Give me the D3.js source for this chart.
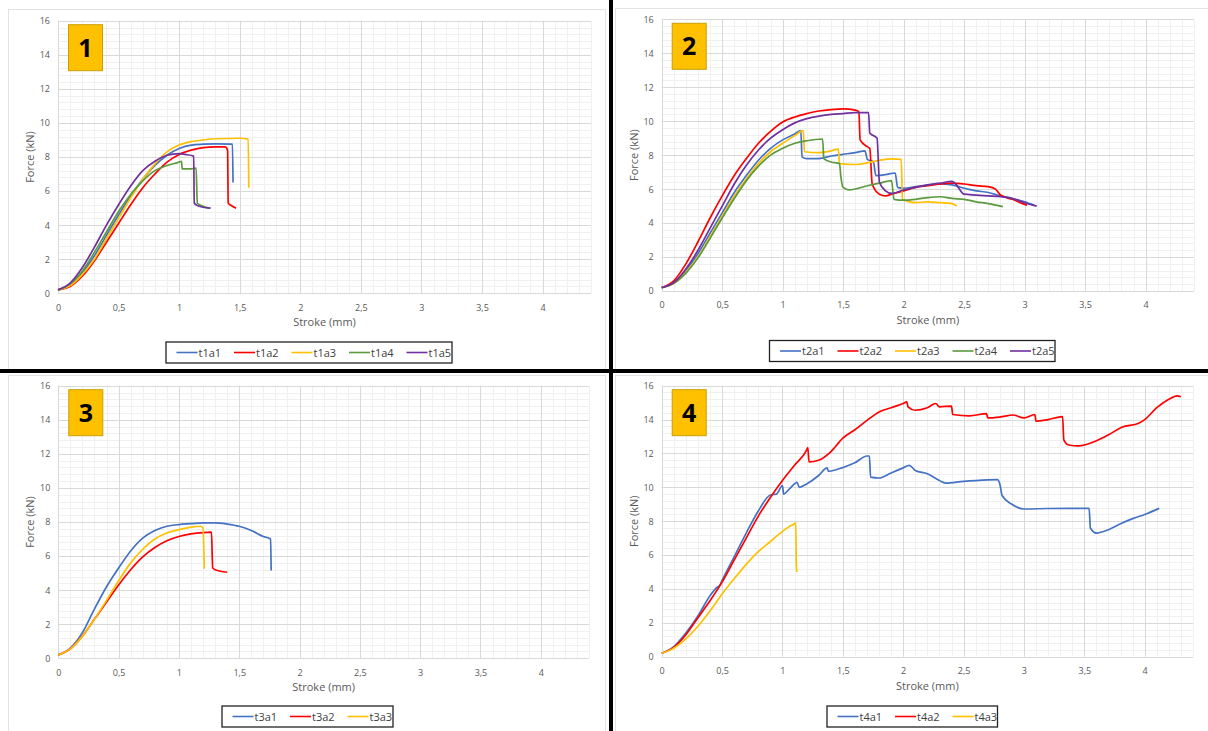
<!DOCTYPE html>
<html>
<head>
<meta charset="utf-8">
<script src="https://cdn.jsdelivr.net/npm/d3@7"></script>
<style>
  body { margin: 0; background: #fff; }
  text { font-family: "Open Sans", "Liberation Sans", sans-serif; }
</style>
</head>
<body>
<svg id="chart" width="1208" height="731"></svg>
<script>
// tick labels shared by the four panels
var xTicks = [0, 0.5, 1, 1.5, 2, 2.5, 3, 3.5, 4];
var yTicks = [0, 2, 4, 6, 8, 10, 12, 14, 16];

// panel 1
var t1a1 = [[0,0.2],[0.1,0.5],[0.2,1.2],[0.3,2.2],[0.4,3.4],[0.5,4.6],[0.6,5.7],[0.7,6.7],[0.8,7.5],[0.9,8.1],[1.0,8.5],[1.1,8.7],[1.2,8.75],[1.3,8.77],[1.44,8.75],[1.445,6.5]];
var t1a2 = [[0,0.2],[0.1,0.4],[0.2,1.0],[0.3,1.9],[0.4,3.0],[0.5,4.1],[0.6,5.2],[0.7,6.2],[0.8,7.0],[0.9,7.7],[1.0,8.15],[1.1,8.4],[1.2,8.55],[1.3,8.6],[1.38,8.6],[1.40,8.4],[1.405,5.3],[1.43,5.15],[1.47,5.0]];
var t1a3 = [[0,0.2],[0.1,0.45],[0.2,1.1],[0.3,2.0],[0.4,3.2],[0.5,4.4],[0.6,5.6],[0.7,6.7],[0.8,7.6],[0.9,8.3],[1.0,8.7],[1.1,8.9],[1.2,9.0],[1.3,9.07],[1.5,9.1],[1.57,9.05],[1.575,6.2]];
var t1a4 = [[0,0.2],[0.1,0.55],[0.2,1.3],[0.3,2.4],[0.4,3.6],[0.5,4.8],[0.6,5.8],[0.7,6.6],[0.8,7.2],[0.9,7.5],[1.0,7.7],[1.02,7.75],[1.025,7.3],[1.1,7.3],[1.14,7.35],[1.15,5.3],[1.2,5.1],[1.25,5.0]];
var t1a5 = [[0,0.2],[0.1,0.6],[0.2,1.5],[0.3,2.7],[0.4,4.0],[0.5,5.2],[0.6,6.3],[0.7,7.2],[0.8,7.75],[0.9,8.1],[1.0,8.2],[1.05,8.15],[1.12,8.05],[1.125,5.3],[1.15,5.15],[1.2,5.05],[1.26,5.0]];

// panel 2
var t2a1 = [[0,0.2],[0.1,0.5],[0.2,1.2],[0.3,2.2],[0.4,3.4],[0.5,4.6],[0.6,5.8],[0.7,6.8],[0.8,7.7],[0.9,8.4],[1.0,8.9],[1.1,9.25],[1.15,9.45],[1.16,7.9],[1.2,7.8],[1.3,7.8],[1.4,7.95],[1.5,8.05],[1.6,8.15],[1.68,8.25],[1.7,7.75],[1.75,7.6],[1.77,6.8],[1.85,6.85],[1.93,6.95],[1.95,6.1],[2.0,6.05],[2.1,6.15],[2.2,6.25],[2.3,6.3],[2.4,6.25],[2.5,6.05],[2.6,5.9],[2.7,5.8],[2.8,5.6],[2.9,5.45],[3.0,5.25],[3.08,5.05]];
var t2a2 = [[0,0.2],[0.1,0.6],[0.2,1.6],[0.3,2.9],[0.4,4.3],[0.5,5.6],[0.6,6.8],[0.7,7.8],[0.8,8.7],[0.9,9.4],[1.0,9.95],[1.1,10.25],[1.2,10.45],[1.3,10.6],[1.4,10.68],[1.5,10.72],[1.6,10.65],[1.63,10.55],[1.64,8.9],[1.7,8.5],[1.72,8.4],[1.74,6.3],[1.8,5.7],[1.85,5.6],[1.9,5.7],[2.0,5.9],[2.1,6.1],[2.2,6.2],[2.3,6.3],[2.4,6.35],[2.5,6.3],[2.6,6.2],[2.7,6.15],[2.76,6.0],[2.8,5.65],[2.9,5.4],[3.0,5.1],[3.02,5.05]];
var t2a3 = [[0,0.2],[0.1,0.45],[0.2,1.1],[0.3,2.0],[0.4,3.2],[0.5,4.4],[0.6,5.6],[0.7,6.6],[0.8,7.5],[0.9,8.2],[1.0,8.7],[1.1,9.15],[1.17,9.45],[1.18,8.2],[1.3,8.15],[1.4,8.25],[1.46,8.35],[1.47,7.5],[1.6,7.45],[1.7,7.55],[1.8,7.7],[1.9,7.78],[1.98,7.75],[1.99,5.4],[2.05,5.25],[2.1,5.2],[2.2,5.25],[2.3,5.2],[2.4,5.15],[2.44,5.0]];
var t2a4 = [[0,0.2],[0.1,0.45],[0.2,1.05],[0.3,1.95],[0.4,3.1],[0.5,4.3],[0.6,5.45],[0.7,6.5],[0.8,7.35],[0.9,8.0],[1.0,8.4],[1.1,8.7],[1.2,8.85],[1.33,8.95],[1.34,7.8],[1.4,7.6],[1.47,7.5],[1.48,6.8],[1.5,6.1],[1.55,5.95],[1.7,6.2],[1.8,6.35],[1.9,6.5],[1.92,5.4],[2.0,5.35],[2.1,5.4],[2.2,5.5],[2.3,5.55],[2.4,5.45],[2.5,5.4],[2.6,5.25],[2.7,5.15],[2.82,4.97]];
var t2a5 = [[0,0.2],[0.1,0.5],[0.2,1.3],[0.3,2.4],[0.4,3.7],[0.5,5.0],[0.6,6.3],[0.7,7.4],[0.8,8.3],[0.9,9.0],[1.0,9.5],[1.1,9.9],[1.2,10.15],[1.3,10.3],[1.4,10.4],[1.5,10.45],[1.6,10.5],[1.71,10.5],[1.72,9.3],[1.78,9.0],[1.8,6.4],[1.85,5.9],[1.9,5.75],[2.0,5.95],[2.1,6.1],[2.2,6.25],[2.3,6.35],[2.4,6.45],[2.43,6.3],[2.5,5.7],[2.6,5.65],[2.7,5.6],[2.8,5.55],[2.9,5.45],[3.0,5.2],[3.1,5.0]];

// panel 3
var t3a1 = [[0,0.2],[0.1,0.6],[0.2,1.5],[0.3,2.9],[0.4,4.2],[0.5,5.3],[0.6,6.3],[0.7,7.05],[0.8,7.5],[0.9,7.75],[1.0,7.85],[1.1,7.9],[1.2,7.95],[1.3,7.95],[1.4,7.88],[1.5,7.75],[1.6,7.5],[1.7,7.15],[1.76,7.0],[1.765,5.15]];
var t3a2 = [[0,0.2],[0.1,0.55],[0.2,1.3],[0.3,2.3],[0.4,3.3],[0.5,4.3],[0.6,5.2],[0.7,5.95],[0.8,6.5],[0.9,6.9],[1.0,7.15],[1.1,7.3],[1.2,7.38],[1.27,7.4],[1.28,5.3],[1.32,5.15],[1.4,5.05]];
var t3a3 = [[0,0.2],[0.1,0.55],[0.2,1.3],[0.3,2.3],[0.4,3.4],[0.5,4.55],[0.6,5.6],[0.7,6.4],[0.8,7.0],[0.9,7.35],[1.0,7.55],[1.1,7.7],[1.18,7.75],[1.2,7.65],[1.21,5.25]];

// panel 4
var t4a1 = [[0,0.2],[0.1,0.6],[0.2,1.4],[0.3,2.4],[0.4,3.6],[0.46,4.1],[0.48,4.2],[0.5,4.5],[0.6,5.9],[0.7,7.3],[0.8,8.6],[0.9,9.55],[0.95,9.6],[1.0,10.1],[1.01,9.6],[1.05,9.85],[1.1,10.2],[1.12,10.3],[1.14,10.0],[1.2,10.2],[1.3,10.7],[1.37,11.15],[1.38,10.95],[1.45,11.05],[1.55,11.3],[1.6,11.45],[1.7,11.85],[1.72,11.85],[1.73,10.6],[1.8,10.55],[1.9,10.85],[2.0,11.15],[2.05,11.3],[2.1,11.0],[2.2,10.8],[2.3,10.4],[2.35,10.25],[2.5,10.35],[2.6,10.4],[2.78,10.45],[2.8,10.2],[2.82,9.5],[2.9,9.0],[3.0,8.72],[3.2,8.75],[3.4,8.76],[3.54,8.76],[3.55,7.6],[3.6,7.3],[3.7,7.5],[3.8,7.85],[3.9,8.15],[4.0,8.4],[4.12,8.76]];
var t4a2 = [[0,0.2],[0.1,0.55],[0.2,1.3],[0.3,2.3],[0.4,3.3],[0.5,4.4],[0.6,5.7],[0.7,7.0],[0.8,8.3],[0.9,9.4],[1.0,10.4],[1.1,11.3],[1.2,12.2],[1.21,12.35],[1.22,11.5],[1.3,11.6],[1.4,12.1],[1.5,12.9],[1.6,13.4],[1.7,13.95],[1.8,14.45],[1.9,14.7],[2.0,14.95],[2.03,15.05],[2.04,14.75],[2.1,14.55],[2.2,14.7],[2.27,14.95],[2.3,14.75],[2.4,14.8],[2.41,14.3],[2.55,14.22],[2.69,14.35],[2.7,14.1],[2.8,14.15],[2.91,14.27],[3.0,14.1],[3.09,14.3],[3.1,13.9],[3.2,14.0],[3.32,14.17],[3.33,12.8],[3.37,12.5],[3.45,12.45],[3.6,12.75],[3.7,13.1],[3.81,13.55],[3.95,13.78],[4.0,14.0],[4.1,14.7],[4.2,15.2],[4.27,15.4],[4.3,15.35]];
var t4a3 = [[0,0.2],[0.1,0.5],[0.2,1.05],[0.3,1.8],[0.4,2.7],[0.5,3.7],[0.6,4.6],[0.7,5.45],[0.8,6.2],[0.9,6.8],[1.0,7.4],[1.05,7.65],[1.1,7.85],[1.11,7.9],[1.115,5.4],[1.12,5.0]];

var colors = {a1: "#4472C4", a2: "#FF0000", a3: "#FFC000", a4: "#5B9A3D", a5: "#7030A0"};

var panels = [
    {num: "1", left: 58, right: 591, top: 20.7, bottom: 293.3, legX: 166, legY: 342, legW: 286,
     box: [8, 9, 597, 362], series: {t1a1: t1a1, t1a2: t1a2, t1a3: t1a3, t1a4: t1a4, t1a5: t1a5}},
    {num: "2", left: 661.7, right: 1194, top: 19.3, bottom: 291, legX: 769.5, legY: 340.5, legW: 285.5,
     box: [615, 8, 600, 362], series: {t2a1: t2a1, t2a2: t2a2, t2a3: t2a3, t2a4: t2a4, t2a5: t2a5}},
    {num: "3", left: 58.3, right: 589, top: 385.7, bottom: 658.3, legX: 222, legY: 706, legW: 171,
     box: [8, 375, 597, 370], series: {t3a1: t3a1, t3a2: t3a2, t3a3: t3a3}},
    {num: "4", left: 661.7, right: 1193, top: 385.7, bottom: 656.7, legX: 827, legY: 706, legW: 170.5,
     box: [615, 375, 600, 370], series: {t4a1: t4a1, t4a2: t4a2, t4a3: t4a3}}
];

var svg = d3.select("#chart");
svg.append("rect").attr("width", 1208).attr("height", 731).attr("fill", "#fff");

function fmt(d) { return String(d).replace(".", ","); }

function drawPanel(p) {
    var g = svg.append("g");

    // chart area border
    g.append("rect")
        .attr("x", p.box[0] + 0.5).attr("y", p.box[1] + 0.5)
        .attr("width", p.box[2]).attr("height", p.box[3])
        .attr("fill", "none").attr("stroke", "#e3e3e3");

    var x = d3.scaleLinear().domain([0, 4.4]).range([p.left, p.right]);
    var y = d3.scaleLinear().domain([0, 16]).range([p.bottom, p.top]);

    // minor grid
    var minorX = d3.range(0, 4.41, 0.1);
    var minorY = d3.range(0, 16.01, 0.4);
    g.append("g").selectAll("line").data(minorX).enter().append("line")
        .attr("x1", function(d) { return Math.round(x(d)) + 0.5; })
        .attr("x2", function(d) { return Math.round(x(d)) + 0.5; })
        .attr("y1", p.top).attr("y2", p.bottom)
        .attr("stroke", "#f0f0f0");
    g.append("g").selectAll("line").data(minorY).enter().append("line")
        .attr("y1", function(d) { return Math.round(y(d)) + 0.5; })
        .attr("y2", function(d) { return Math.round(y(d)) + 0.5; })
        .attr("x1", p.left).attr("x2", p.right)
        .attr("stroke", "#f0f0f0");

    // major grid
    g.append("g").selectAll("line").data(xTicks).enter().append("line")
        .attr("x1", function(d) { return Math.round(x(d)) + 0.5; })
        .attr("x2", function(d) { return Math.round(x(d)) + 0.5; })
        .attr("y1", p.top).attr("y2", p.bottom)
        .attr("stroke", "#d9d9d9");
    g.append("g").selectAll("line").data(yTicks).enter().append("line")
        .attr("y1", function(d) { return Math.round(y(d)) + 0.5; })
        .attr("y2", function(d) { return Math.round(y(d)) + 0.5; })
        .attr("x1", p.left).attr("x2", p.right)
        .attr("stroke", "#d9d9d9");

    // axes (labels only, Excel style)
    var xAxis = g.append("g").attr("transform", "translate(0," + p.bottom + ")")
        .call(d3.axisBottom(x).tickValues(xTicks).tickFormat(fmt).tickSize(0).tickPadding(11));
    var yAxis = g.append("g").attr("transform", "translate(" + p.left + ",0)")
        .call(d3.axisLeft(y).tickValues(yTicks).tickSize(0).tickPadding(8));
    [xAxis, yAxis].forEach(function(a) {
        a.select(".domain").remove();
        a.selectAll("text").attr("fill", "#595959").attr("font-size", 9)
            .attr("font-family", "'Open Sans', sans-serif");
    });

    g.append("text")
        .attr("x", (p.left + p.right) / 2).attr("y", p.bottom + 33)
        .attr("text-anchor", "middle").attr("font-size", 11).attr("fill", "#595959")
        .text("Stroke (mm)");
    g.append("text")
        .attr("transform", "translate(" + (p.left - 24) + "," + ((p.top + p.bottom) / 2) + ") rotate(-90)")
        .attr("text-anchor", "middle").attr("font-size", 11).attr("fill", "#595959")
        .text("Force (kN)");

    // curves
    var line = d3.line()
        .curve(d3.curveMonotoneX)
        .x(function(d) { return x(d[0]); })
        .y(function(d) { return y(d[1]); });
    var names = Object.keys(p.series);
    g.append("g").selectAll("path").data(names).enter().append("path")
        .attr("d", function(n) { return line(p.series[n]); })
        .attr("fill", "none")
        .attr("stroke", function(n) { return colors[n.slice(2)]; })
        .attr("stroke-width", 1.7)
        .attr("stroke-linejoin", "round");

    // number badge
    g.append("rect")
        .attr("x", p.left + 10.5).attr("y", p.top + 4)
        .attr("width", 34).attr("height", 46)
        .attr("fill", "#FFC000").attr("stroke", "#C8A000").attr("stroke-width", 1);
    g.append("text")
        .attr("x", p.left + 27.5).attr("y", p.top + 36)
        .attr("text-anchor", "middle").attr("font-size", 25).attr("font-weight", "bold")
        .attr("fill", "#000").text(p.num);

    // legend
    var leg = g.append("g").attr("transform", "translate(" + p.legX + "," + p.legY + ")");
    leg.append("rect").attr("width", p.legW).attr("height", 21)
        .attr("fill", "#fff").attr("stroke", "#222").attr("stroke-width", 1.3);
    var item = leg.selectAll("g.item").data(names).enter().append("g")
        .attr("transform", function(n, i) { return "translate(" + (10.5 + i * 57.5) + ",0)"; });
    item.append("line").attr("x1", 0).attr("x2", 21).attr("y1", 10.5).attr("y2", 10.5)
        .attr("stroke", function(n) { return colors[n.slice(2)]; }).attr("stroke-width", 1.6);
    item.append("text").attr("x", 22).attr("y", 14.5)
        .attr("font-size", 11).attr("fill", "#404040").text(function(n) { return n; });
}

panels.forEach(drawPanel);

// black separators between the four charts
svg.append("rect").attr("x", 0).attr("y", 369).attr("width", 1208).attr("height", 4).attr("fill", "#000");
svg.append("rect").attr("x", 609).attr("y", 0).attr("width", 4).attr("height", 731).attr("fill", "#000");
</script>
</body>
</html>
